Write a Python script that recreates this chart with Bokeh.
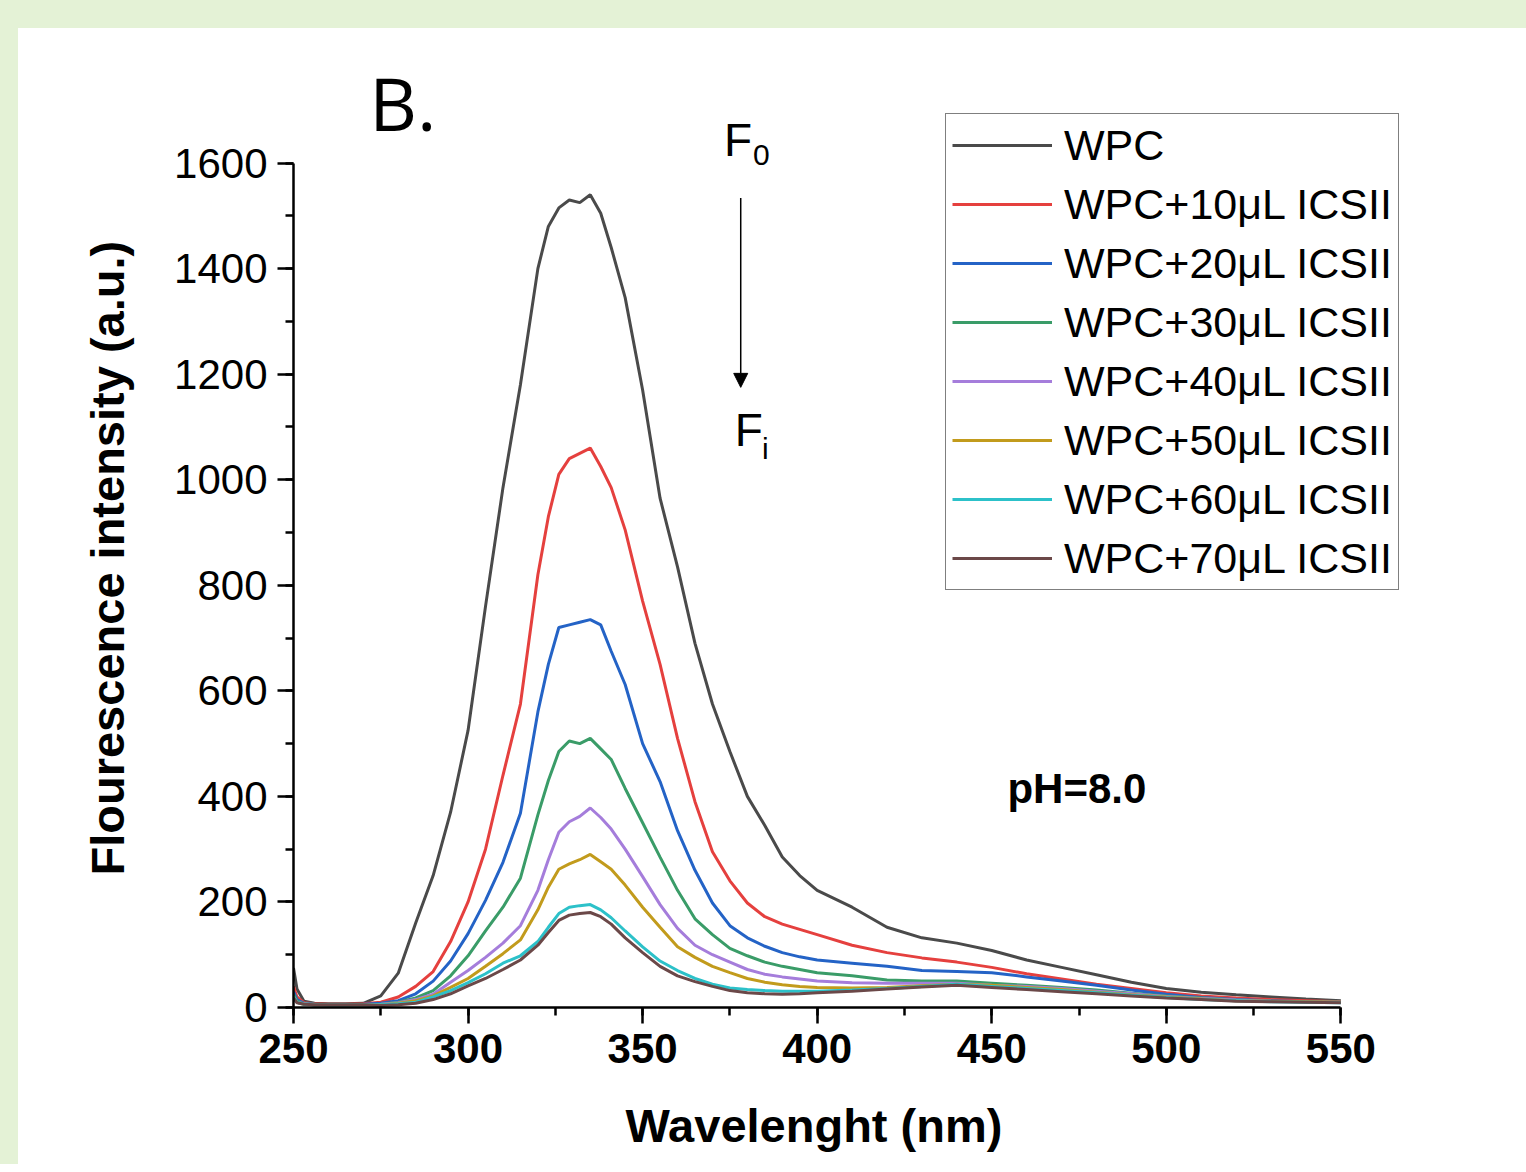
from bokeh.plotting import figure
from bokeh.models import (Range1d, SingleIntervalTicker, Legend, LegendItem,
                          Arrow, NormalHead, Div, Title)
from bokeh.layouts import column, row
from bokeh.core.properties import value
from bokeh.embed import file_html
from bokeh.resources import INLINE

# ---------------- data ----------------
wavelength = [250, 251, 253, 256, 260, 265, 270, 275, 280, 285, 290, 295, 300, 305,
              310, 315, 320, 323, 326, 329, 332, 335, 338, 341, 345, 350, 355, 360,
              365, 370, 375, 380, 385, 390, 395, 400, 410, 420, 430, 440, 450, 460,
              470, 480, 490, 500, 510, 520, 530, 540, 550]

wpc = [75, 35, 12, 8, 7, 7, 8, 22, 65, 160, 250, 370, 525, 760,
       985, 1180, 1400, 1480, 1515, 1530, 1525, 1540, 1505, 1440, 1345, 1170, 965, 835,
       690, 575, 485, 400, 345, 285, 250, 222, 190, 152, 132, 122, 108, 90,
       76, 62, 48, 36, 29, 24, 20, 16, 13]

wpc_10 = [40, 20, 9, 7, 6, 6, 7, 10, 20, 40, 68, 125, 200, 300,
          440, 575, 820, 930, 1010, 1040, 1050, 1060, 1025, 985, 905, 770, 650, 510,
          390, 295, 240, 198, 172, 158, 148, 138, 118, 104, 94, 86, 76, 64,
          54, 44, 36, 28, 22, 18, 15, 13, 11]

wpc_20 = [30, 15, 8, 6, 5, 5, 6, 8, 13, 26, 50, 88, 140, 203,
          275, 368, 560, 650, 720, 725, 730, 735, 725, 675, 612, 500, 428, 335,
          260, 198, 155, 132, 116, 104, 96, 90, 84, 78, 70, 68, 66, 58,
          50, 42, 33, 25, 19, 15, 13, 11, 10]

wpc_30 = [25, 12, 7, 6, 5, 5, 5, 6, 10, 18, 32, 60, 98, 145,
          190, 245, 365, 430, 485, 505, 500, 510, 490, 470, 415, 350, 285, 222,
          168, 138, 112, 98, 86, 78, 72, 66, 60, 52, 50, 50, 46, 42,
          38, 33, 27, 22, 18, 14, 12, 11, 10]

wpc_40 = [20, 10, 7, 5, 5, 5, 5, 6, 9, 15, 25, 48, 70, 95,
          122, 155, 222, 280, 332, 352, 362, 378, 360, 338, 300, 248, 195, 150,
          118, 100, 86, 72, 63, 58, 54, 50, 47, 46, 46, 46, 42, 40,
          36, 31, 26, 21, 17, 14, 12, 11, 10]

wpc_50 = [20, 10, 6, 5, 5, 5, 5, 5, 8, 13, 22, 38, 55, 78,
          102, 128, 185, 228, 262, 272, 280, 290, 276, 262, 232, 190, 152, 115,
          95, 78, 66, 55, 48, 43, 40, 38, 37, 38, 41, 44, 42, 38,
          34, 29, 24, 20, 16, 13, 12, 11, 10]

wpc_60 = [20, 10, 6, 5, 5, 5, 5, 5, 7, 10, 20, 32, 47, 64,
          84, 98, 125, 152, 178, 190, 193, 195, 185, 170, 145, 115, 88, 70,
          55, 44, 37, 34, 32, 31, 31, 31, 33, 36, 40, 44, 40, 36,
          32, 28, 23, 19, 15, 13, 11, 10, 9]

wpc_70 = [18, 9, 6, 5, 5, 5, 5, 4, 5, 8, 15, 26, 41, 55,
          72, 90, 118, 142, 165, 175, 178, 180, 172, 158, 132, 104, 78, 60,
          49, 40, 32, 28, 26, 25, 26, 28, 31, 35, 39, 42, 38, 34,
          30, 26, 22, 18, 15, 12, 11, 10, 9]

series_names = ["WPC", "WPC+10\u03bcL ICSII", "WPC+20\u03bcL ICSII", "WPC+30\u03bcL ICSII",
                "WPC+40\u03bcL ICSII", "WPC+50\u03bcL ICSII", "WPC+60\u03bcL ICSII",
                "WPC+70\u03bcL ICSII"]
series_values = [wpc, wpc_10, wpc_20, wpc_30, wpc_40, wpc_50, wpc_60, wpc_70]
series_colors = ["#4a4a4a", "#e5403e", "#2463c6", "#3a9c68", "#a57ddb",
                 "#c29b1c", "#2cc1c9", "#6b4848"]

x_ticks_step = 50
y_ticks_step = 200
x_title = "Wavelenght (nm)"
y_title = "Flourescence intensity (a.u.)"

# ---------------- figure ----------------
GREEN = "#e4f2d6"
FONT = "Liberation Sans"

p = figure(frame_width=1187, frame_height=950,
           x_range=Range1d(250, 590), y_range=Range1d(0, 1800),
           min_border_left=275, min_border_right=38, min_border_top=29,
           min_border_bottom=150,
           output_backend="svg", toolbar_location=None,
           background_fill_color="white", border_fill_color="white")

p.xgrid.visible = False
p.ygrid.visible = False
p.outline_line_color = None

p.xaxis.ticker = SingleIntervalTicker(interval=x_ticks_step, num_minor_ticks=2)
p.yaxis.ticker = SingleIntervalTicker(interval=y_ticks_step, num_minor_ticks=2)
p.xaxis.bounds = (250, 550)
p.yaxis.bounds = (0, 1600)

for ax in (p.xaxis[0], p.yaxis[0]):
    ax.axis_line_width = 2.5
    ax.axis_line_color = "black"
    ax.major_tick_line_width = 2.5
    ax.minor_tick_line_width = 2.5
    ax.major_tick_line_color = "black"
    ax.minor_tick_line_color = "black"
    ax.major_tick_in = 0
    ax.major_tick_out = 16
    ax.minor_tick_in = 0
    ax.minor_tick_out = 8
    ax.major_label_text_font = FONT
    ax.major_label_text_font_size = "42px"
    ax.major_label_text_color = "black"
    ax.major_label_standoff = 10

p.xaxis.major_label_text_font_style = "bold"
p.yaxis.major_label_text_font_style = "normal"

# axis titles as side titles, positioned along the drawn axis
p.add_layout(Title(text=x_title, align="left", offset=332, text_font=FONT,
                   text_font_size="47px", text_font_style="bold",
                   text_color="black", standoff=62), "below")
p.add_layout(Title(text=y_title, align="left", offset=132, text_font=FONT,
                   text_font_size="47px", text_font_style="bold",
                   text_color="black", standoff=76), "left")

items = []
for name, vals, col in zip(series_names, series_values, series_colors):
    r = p.line(wavelength, vals, line_color=col, line_width=3)
    items.append(LegendItem(label=name, renderers=[r]))

legend = Legend(items=items, location=(652, 417),
                border_line_color="black", border_line_width=1.5,
                background_fill_color="white", background_fill_alpha=1,
                label_text_font=FONT, label_text_font_size="43px",
                label_text_color="black",
                glyph_width=100, glyph_height=50, label_height=50,
                spacing=9, padding=6, margin=0, label_standoff=12)
p.add_layout(legend)

# annotations
p.text(x=[271.7], y=[1715], text=["B."], text_font=value("Open Sans"),
       text_font_size="74px", text_color="black", text_baseline="alphabetic",
       text_align="left")
p.text(x=[373.3], y=[1644], text=["F"], text_font=value(FONT),
       text_font_size="46px", text_color="black", text_baseline="alphabetic")
p.text(x=[381.6], y=[1615], text=["0"], text_font=value(FONT),
       text_font_size="30px", text_color="black", text_baseline="alphabetic")
p.text(x=[376.4], y=[1094], text=["F"], text_font=value(FONT),
       text_font_size="46px", text_color="black", text_baseline="alphabetic")
p.text(x=[384.2], y=[1060], text=["i"], text_font=value(FONT),
       text_font_size="30px", text_color="black", text_baseline="alphabetic")
p.text(x=[454.5], y=[415], text=["pH=8.0"], text_font=value(FONT),
       text_font_size="42px", text_font_style="bold", text_color="black",
       text_baseline="alphabetic")

p.add_layout(Arrow(end=NormalHead(size=14, fill_color="black", line_color="black",
                                  line_width=1),
                   x_start=378.1, y_start=1534, x_end=378.1, y_end=1175,
                   line_width=1.5, line_color="black"))

top_band = Div(width=1526, height=28, styles={"background-color": GREEN}, margin=0)
left_band = Div(width=18, height=1136, styles={"background-color": GREEN}, margin=0)
layout = column(top_band, row(left_band, p, spacing=0), spacing=0)

open("out.html", "w").write(file_html(layout, INLINE))
